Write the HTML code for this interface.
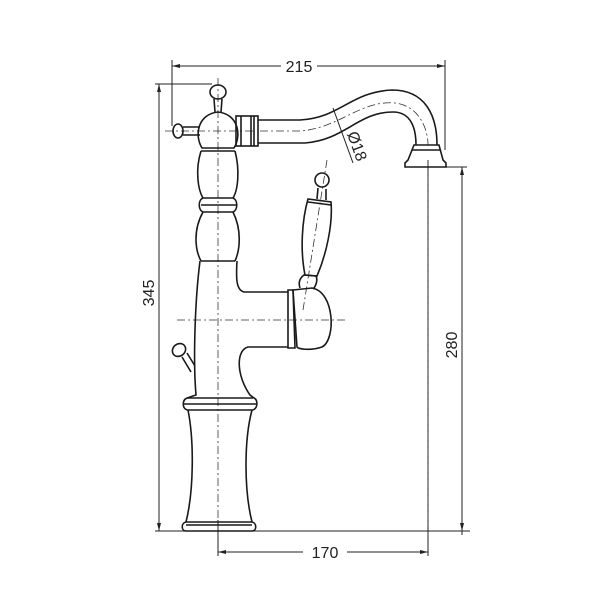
<!DOCTYPE html>
<html><head><style>html,body{margin:0;padding:0;background:#fff;}svg{display:block}</style></head>
<body>
<svg width="600" height="600" viewBox="0 0 600 600" xmlns="http://www.w3.org/2000/svg" font-family="Liberation Sans, sans-serif">
<g fill="none" stroke="#222" stroke-width="1">
<line x1="172" y1="66" x2="281" y2="66"/><line x1="317" y1="66" x2="445" y2="66"/>
<line x1="172" y1="60" x2="172" y2="126"/><line x1="445" y1="60" x2="445" y2="150"/>
<line x1="159" y1="84" x2="159" y2="531"/><line x1="155" y1="84" x2="212" y2="84"/>
<line x1="155" y1="531" x2="470" y2="531"/>
<line x1="462" y1="167" x2="462" y2="535"/><line x1="432" y1="167" x2="467" y2="167"/>
<line x1="218" y1="552" x2="303" y2="552"/><line x1="347" y1="552" x2="428" y2="552"/>
<line x1="218" y1="520" x2="218" y2="556"/>
<line x1="428" y1="160" x2="428" y2="556"/>
<line x1="333" y1="108" x2="353" y2="163"/>
</g>
<g fill="#222">
<polygon points="172,66 180,64 180,68"/><polygon points="445,66 437,64 437,68"/>
<polygon points="159,84 157,92 161,92"/><polygon points="159,531 157,523 161,523"/>
<polygon points="462,167 460,175 464,175"/><polygon points="462,531 460,523 464,523"/>
<polygon points="218,552 226,550 226,554"/><polygon points="428,552 420,550 420,554"/>
</g>
<g fill="none" stroke="#333" stroke-width="0.8" stroke-dasharray="8,3,2,3">
<line x1="218" y1="78" x2="218" y2="525"/>
<line x1="428" y1="160" x2="428" y2="525"/>
<line x1="165" y1="131" x2="255" y2="131"/>
<line x1="177" y1="320" x2="345" y2="320"/>
<path d="M260,131 L300,131 C340,128 360,100 395,103 C420,106 428,130 428,145"/>
<line x1="327" y1="160" x2="303" y2="310"/>
</g>
<g fill="none" stroke="#1a1a1a" stroke-width="1.6">
<ellipse cx="218" cy="92" rx="8" ry="7"/>
<path d="M214,99 L215,112 M222,99 L221,112"/>
<ellipse cx="178" cy="131" rx="5" ry="7"/>
<path d="M183,127 L200,127 M183,135 L200,135"/>
<path d="M202,148 C194,135 198,114 218,112 C238,114 242,135 234,148 Z"/>
<line x1="201" y1="151" x2="235" y2="151"/>
<rect x="236" y="116" width="22" height="30"/>
<line x1="241" y1="116" x2="241" y2="146"/><line x1="251" y1="116" x2="251" y2="146"/><line x1="254" y1="116" x2="254" y2="146"/>
<path d="M258,120 L300,120 C340,118 350,92 392,90 C425,90 437,115 437,145"/>
<path d="M258,143 L305,143 C345,140 358,112 393,112 C412,112 416,130 416,145"/>
<path d="M414,145 L439,145 L443,160 L446,163 L446,167 L405,167 L405,163 L408,160 Z"/>
<line x1="412" y1="150" x2="440" y2="150"/>
<path d="M201,151 C195,170 198,190 203,198 M235,151 C240,170 238,190 233,198"/>
<path d="M203,198 C198,200 198,210 203,212 L233,212 C238,210 238,200 233,198 Z"/>
<line x1="201" y1="205" x2="236" y2="205"/>
<path d="M203,212 C193,230 195,250 201,261 M233,212 C242,230 240,250 235,261"/>
<line x1="201" y1="261" x2="235" y2="261"/>
<path d="M200,261 C195,300 193,360 196,395 L187,398 C182,400 182,408 187,410"/>
<path d="M237,261 C236,278 236,290 244,292 L288,292"/>
<path d="M288,347 L248,347 C236,350 236,375 250,395 L254,398 C258,400 258,408 253,410"/>
<path d="M187,398 L253,398 M187,410 L253,410"/>
<line x1="184" y1="404" x2="256" y2="404"/>
<path d="M188,410 C194,440 194,490 186,522 M252,410 C244,440 244,490 252,522"/>
<path d="M186,522 C181,523 181,531 186,531 L252,531 C257,531 257,523 252,522 Z"/>
<line x1="186" y1="525" x2="252" y2="525"/>
<ellipse cx="179" cy="350" rx="7" ry="6" transform="rotate(-40 179 350)"/>
<path d="M182,357 L191,372 M187,353 L195,366"/>
<path d="M288,290 L293,290 L295,348 L288,348 Z"/>
<path d="M293,290 L312,288 C335,292 336,340 322,347 C310,351 298,349 297,347 Z"/>
<path d="M300,288 C298,282 300,278 304,275 L316,276 C318,280 316,286 313,289"/>
<path d="M305,275 C300,250 302,220 308,199 L331,202 C333,225 326,255 317,276 Z"/>
<line x1="308" y1="202" x2="331" y2="205"/>
<path d="M317,199 L318,188 M326,200 L326,189"/>
<ellipse cx="322" cy="180" rx="7" ry="7"/>
</g>
<g fill="#222" font-size="16">
<text x="299" y="72" text-anchor="middle">215</text>
<text x="325" y="558" text-anchor="middle">170</text>
<text transform="translate(154,293) rotate(-90)" text-anchor="middle">345</text>
<text transform="translate(457,345) rotate(-90)" text-anchor="middle">280</text>
<text transform="translate(352,148) rotate(70)" text-anchor="middle">Ø18</text>
</g>
</svg>
</body></html>
